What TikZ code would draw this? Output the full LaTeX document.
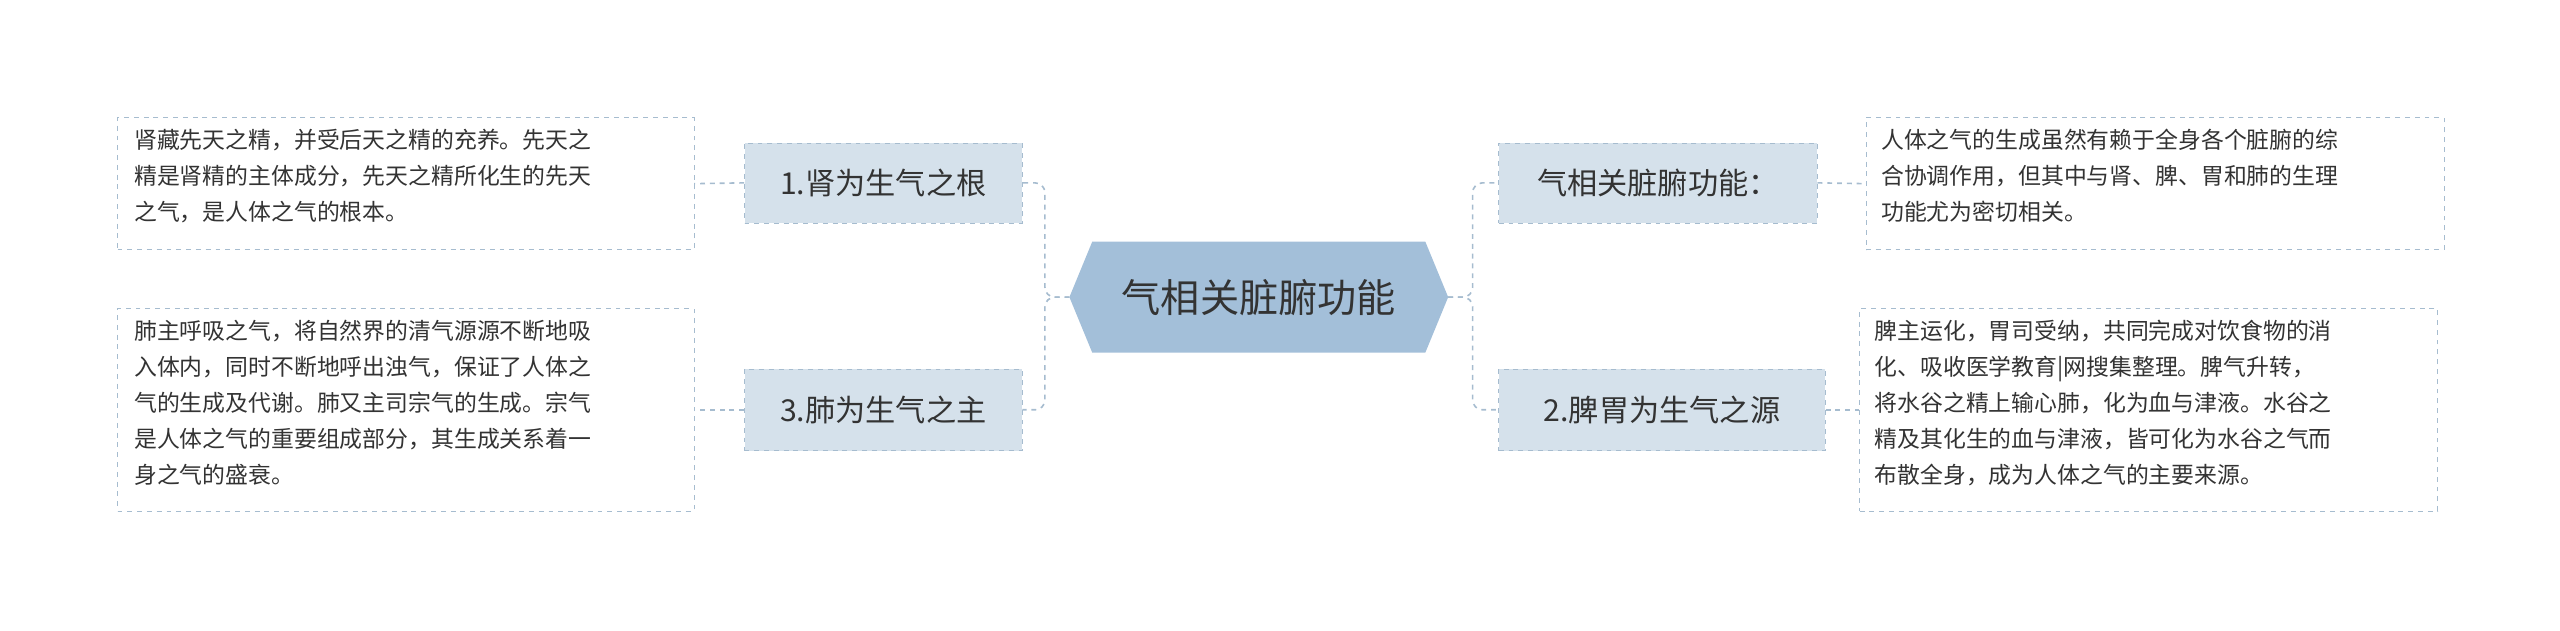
\documentclass[tikz,border=0pt]{standalone}
\usepackage{fontspec}
\setmainfont{Noto Sans CJK SC}
\definecolor{hexc}{HTML}{A3BFD9}
\definecolor{subc}{HTML}{D5E1EB}
\definecolor{linec}{HTML}{A6BCCF}
\definecolor{txt}{HTML}{333333}
\begin{document}
\begin{tikzpicture}[x=1pt,y=-1pt,
  sub/.style={draw=linec,dashed,fill=subc,inner sep=0,text=txt,font=\fontsize{18.5}{22}\selectfont},
  leaf/.style={draw=linec,dashed,fill=white,inner sep=0,text=txt},
  lt/.style={anchor=north west,align=left,font=\fontsize{14}{22}\selectfont,text=txt,inner sep=0},
  conn/.style={draw=linec,dashed,line width=1pt,rounded corners=6pt}]
\useasboundingbox (0,0) rectangle (1568,386);
\fill[hexc] (655,182) -- (669,148) -- (873,148) -- (887,182) -- (873,216) -- (669,216) -- cycle;
\node (c) at (771,182) {\fontsize{24}{28}\selectfont\color{txt}气相关脏腑功能};
\coordinate (cl) at (655,182); \coordinate (cr) at (887,182);
\node[sub,minimum width=170,minimum height=49] (a) at (541,112) {1.肾为生气之根};
\node[sub,minimum width=170,minimum height=50] (b) at (541,251) {3.肺为生气之主};
\node[sub,minimum width=195,minimum height=49] (d) at (1015.5,112) {气相关脏腑功能：};
\node[sub,minimum width=200,minimum height=50] (e) at (1018,251) {2.脾胃为生气之源};
\node[leaf,minimum width=353,minimum height=81] (la) at (248.5,112.5) {};
\node[lt] at (82,79) {肾藏先天之精，并受后天之精的充养。先天之\\精是肾精的主体成分，先天之精所化生的先天\\之气，是人体之气的根本。};
\node[leaf,minimum width=353,minimum height=124] (lb) at (248.5,251) {};
\node[lt] at (82,196) {肺主呼吸之气，将自然界的清气源源不断地吸\\入体内，同时不断地呼出浊气，保证了人体之\\气的生成及代谢。肺又主司宗气的生成。宗气\\是人体之气的重要组成部分，其生成关系着一\\身之气的盛衰。};
\node[leaf,minimum width=354,minimum height=81] (ld) at (1320,112.5) {};
\node[lt] at (1152,79) {人体之气的生成虽然有赖于全身各个脏腑的综\\合协调作用，但其中与肾、脾、胃和肺的生理\\功能尤为密切相关。};
\node[leaf,minimum width=354,minimum height=124] (le) at (1316,251) {};
\node[lt] at (1148,196) {脾主运化，胃司受纳，共同完成对饮食物的消\\化、吸收医学教育|网搜集整理。脾气升转，\\将水谷之精上输心肺，化为血与津液。水谷之\\精及其化生的血与津液，皆可化为水谷之气而\\布散全身，成为人体之气的主要来源。};
\draw[conn] (cl) -- (640,182) |- (a.east);
\draw[conn] (cl) -- (640,182) |- (b.east);
\draw[conn] (cr) -- (902,182) |- (d.west);
\draw[conn] (cr) -- (902,182) |- (e.west);
\draw[conn] (a.west) -- (la.east);
\draw[conn] (b.west) -- (lb.east);
\draw[conn] (d.east) -- (ld.west);
\draw[conn] (e.east) -- (le.west);
\end{tikzpicture}
\end{document}
